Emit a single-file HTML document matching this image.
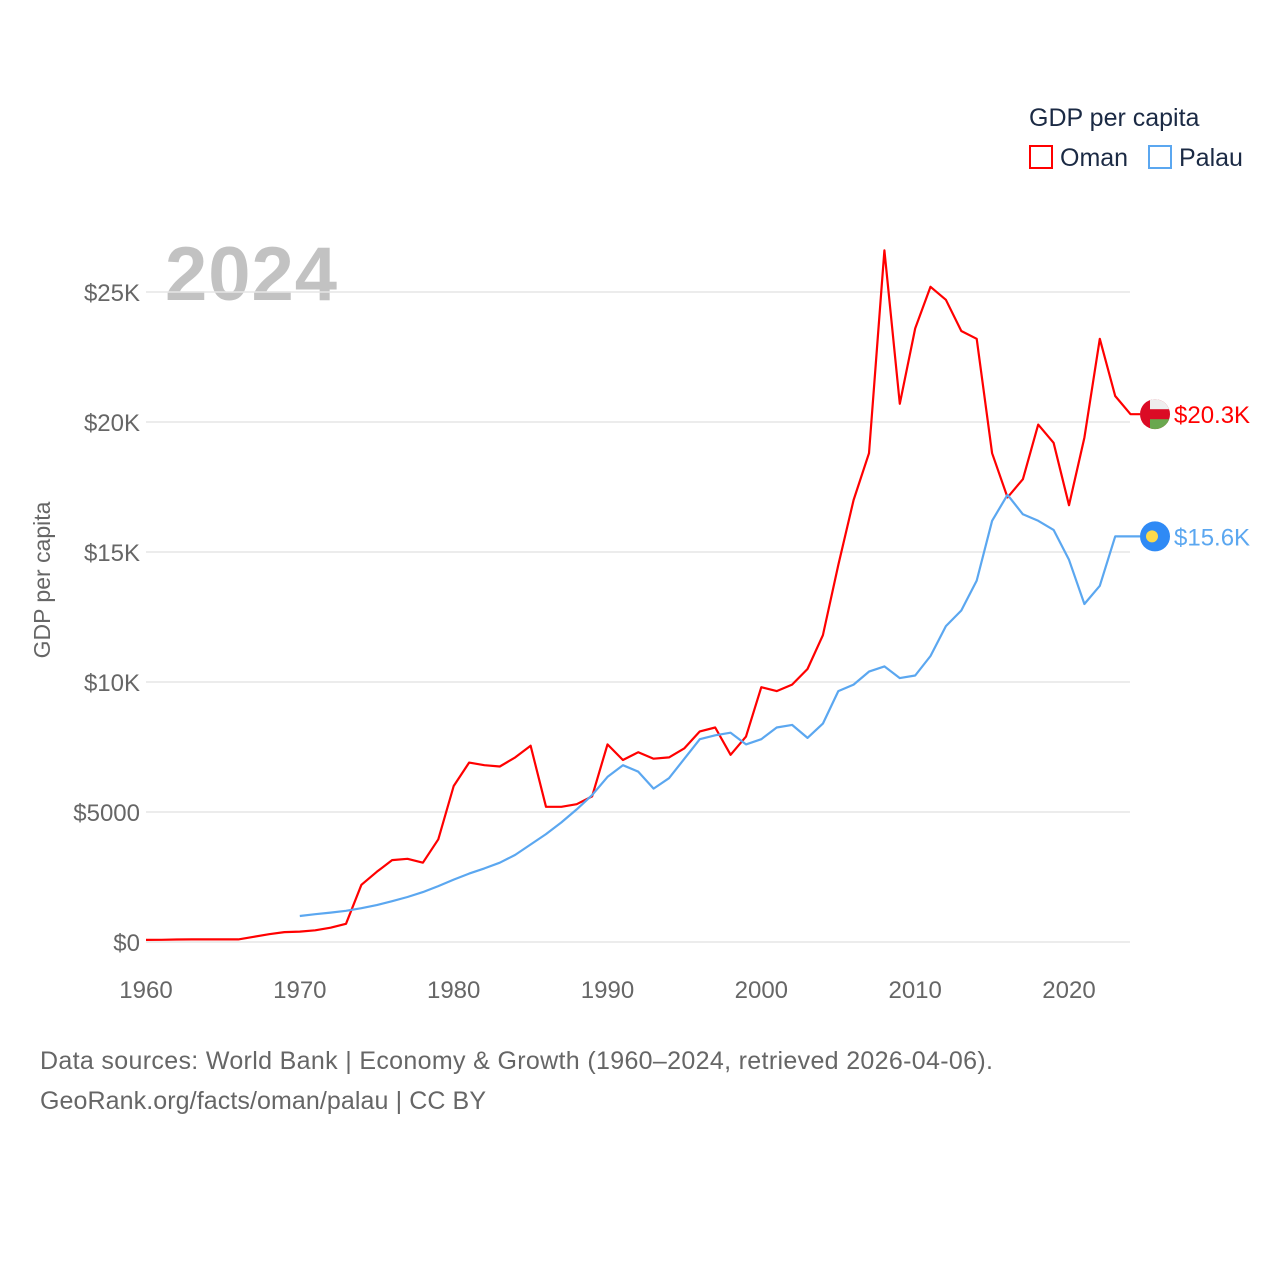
<!DOCTYPE html>
<html><head><meta charset="utf-8"><style>
body{margin:0;background:#fff;}
svg{display:block;font-family:"Liberation Sans",sans-serif;}
</style></head><body>
<svg id="chart" width="1280" height="1280" viewBox="0 0 1280 1280">
<g>
<text x="1029" y="126" font-size="25" fill="#1b2a44">GDP per capita</text>
<rect x="1030" y="146" width="22" height="22" fill="none" stroke="#f00" stroke-width="2"/>
<text x="1060" y="166" font-size="25" fill="#1b2a44">Oman</text>
<rect x="1149" y="146" width="22" height="22" fill="none" stroke="#5ba7f0" stroke-width="2"/>
<text x="1179" y="166" font-size="25" fill="#1b2a44">Palau</text>
</g>
<text x="165" y="300" font-size="76" font-weight="bold" fill="#c2c2c2" textLength="172">2024</text>
<text transform="translate(50,580) rotate(-90)" text-anchor="middle" font-size="23" fill="#666">GDP per capita</text>
<g id="grid"></g>
<g id="series"></g>
<text x="40" y="1069" font-size="25" fill="#666" textLength="953">Data sources: World Bank | Economy &amp; Growth (1960–2024, retrieved 2026-04-06).</text>
<text x="40" y="1109" font-size="25" fill="#666" textLength="446">GeoRank.org/facts/oman/palau | CC BY</text>
</svg>
<script>
const yTicks=[0,5000,10000,15000,20000,25000];
const yTickLabels=["$0","$5000","$10K","$15K","$20K","$25K"];
const xTicks=[1960,1970,1980,1990,2000,2010,2020];
const omanStart=1960;
const omanValues=[80,85,95,100,100,100,100,200,300,380,400,450,550,700,2200,2700,3150,3200,3050,3950,6000,6900,6800,6750,7100,7550,5200,5200,5300,5600,7600,7000,7300,7050,7100,7450,8100,8250,7200,7900,9800,9650,9900,10500,11800,14500,17000,18800,26600,20700,23600,25200,24700,23500,23200,18800,17100,17800,19900,19200,16800,19400,23200,21000,20300];
const palauStart=1970;
const palauValues=[1000,1070,1130,1200,1300,1420,1570,1730,1920,2150,2400,2630,2830,3050,3350,3750,4150,4600,5100,5650,6350,6800,6550,5900,6300,7050,7800,7950,8050,7600,7800,8250,8350,7850,8400,9650,9900,10400,10600,10150,10250,11000,12150,12750,13900,16200,17200,16450,16200,15850,14700,13000,13700,15600,15600];
const NS="http://www.w3.org/2000/svg";
const X0=146,X1=1069,Y0=942,Y1=292;
const xs=y=>X0+(y-1960)*(X1-X0)/60;
const ys=v=>Y0-v*(Y0-Y1)/25000;
const grid=document.getElementById('grid'),ser=document.getElementById('series');
function mk(tag,attrs,parent){const e=document.createElementNS(NS,tag);for(const k in attrs)e.setAttribute(k,attrs[k]);parent.appendChild(e);return e;}
yTicks.forEach((t,i)=>{
 const l=mk('line',{x1:146,x2:1130,y1:ys(t),y2:ys(t),stroke:'#e6e6e6','stroke-width':1.5},grid);
 
 
 const tx=mk('text',{x:140,y:ys(t)+9,'text-anchor':'end','font-size':24,fill:'#666'},grid);
 tx.textContent=yTickLabels[i];
 
 
});
xTicks.forEach(t=>{
 const tx=mk('text',{x:xs(t),y:998,'text-anchor':'middle','font-size':24,fill:'#666'},grid);
 tx.textContent=t;
 
 
});
function line(vals,start,color,name){
 const pts=vals.map((v,i)=>xs(start+i).toFixed(1)+','+ys(v).toFixed(1));
 const last=vals[vals.length-1];
 pts.push('1140,'+ys(last).toFixed(1));
 const p=mk('polyline',{points:pts.join(' '),fill:'none',stroke:color,'stroke-width':2.2,'stroke-linejoin':'round'},ser);
 
 
 return ys(last);
}
const yo=line(omanValues,omanStart,'#f00','oman');
const yp=line(palauValues,palauStart,'#5ba7f0','palau');
const fo=mk('g',{},ser);


const cp=mk('clipPath',{id:'cpo'},fo);
mk('circle',{cx:1155,cy:yo,r:15},cp);
const gg=mk('g',{'clip-path':'url(#cpo)'},fo);
mk('rect',{x:1140,y:yo-15,width:30,height:30,fill:'#db0b25'},gg);
mk('rect',{x:1150,y:yo-15,width:20,height:10,fill:'#eee'},gg);
mk('rect',{x:1150,y:yo+5,width:20,height:10,fill:'#6aa84f'},gg);
const lo=mk('text',{x:1174,y:yo+9,'font-size':24,fill:'#f00'},ser);
lo.textContent='$20.3K';


const fp=mk('g',{},ser);


mk('circle',{cx:1155,cy:yp,r:15,fill:'#2f8af5'},fp);
mk('circle',{cx:1152,cy:yp,r:6,fill:'#fcd94a'},fp);
const lp=mk('text',{x:1174,y:yp+9,'font-size':24,fill:'#5ba7f0'},ser);
lp.textContent='$15.6K';


</script>
</body></html>
